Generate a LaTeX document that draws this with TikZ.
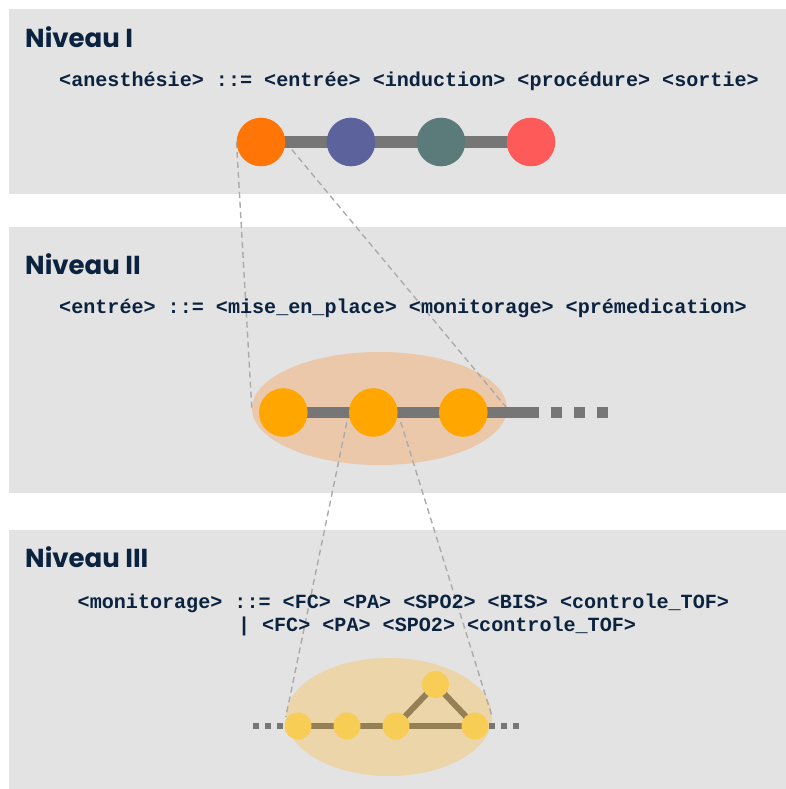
\documentclass[tikz,border=0pt]{standalone}
\usepackage{fontspec}
\setmainfont{Poppins}
\setmonofont{Liberation Mono}
\usetikzlibrary{shapes.geometric}
\pgfdeclarelayer{back}
\pgfdeclarelayer{ell}
\pgfdeclarelayer{dsh}
\pgfdeclarelayer{bar}
\pgfsetlayers{back,ell,dsh,bar,main}
\definecolor{panel}{HTML}{E3E3E3}
\definecolor{navy}{HTML}{0C2340}
\definecolor{bargrey}{HTML}{767676}
\definecolor{dashgrey}{HTML}{ABABAB}
\definecolor{corange}{HTML}{FF7506}
\definecolor{cpurple}{HTML}{5C629C}
\definecolor{cteal}{HTML}{5B7B7A}
\definecolor{cred}{HTML}{FF5A5A}
\definecolor{elltwo}{HTML}{EAC8A9}
\definecolor{dottwo}{HTML}{FFA700}
\definecolor{ellthree}{HTML}{EBD5A9}
\definecolor{dotthree}{HTML}{F8CD55}
\definecolor{brownline}{HTML}{957F55}
\tikzset{
  panelbox/.style={fill=panel, draw=none},
  title/.style={anchor=base west, inner sep=0pt, text=navy, font=\fontsize{26}{30}\selectfont\bfseries},
  code/.style={anchor=west, inner sep=0pt, text=navy, font=\fontsize{20.1}{22}\selectfont\ttfamily\bfseries},
  bigdot/.style={circle, minimum size=48.6pt, inner sep=0pt, draw=none},
  smalldot/.style={circle, minimum size=27pt, inner sep=0pt, draw=none, fill=dotthree},
  zoomell/.style={ellipse, inner sep=0pt, draw=none},
  zoomline/.style={draw=dashgrey, line width=1.4pt, dash pattern=on 6pt off 4pt},
  thickbar/.style={draw=bargrey, line width=11.7pt},
  thinbar/.style={draw=brownline, line width=6pt},
}
\begin{document}
\begin{tikzpicture}[x=1pt,y=-1pt]
\useasboundingbox (0,0) rectangle (786,789);
\begin{pgfonlayer}{back}
  \fill[white] (0,0) rectangle (786,789);
  \path[panelbox] (9,9) rectangle (786,194);
  \path[panelbox] (9,227) rectangle (786,493);
  \path[panelbox] (9,530) rectangle (786,789);
\end{pgfonlayer}

% titles and code
\node[title] (t1) at (25,48) {Niveau I};
\node[title] (t2) at (25,274) {Niveau II};
\node[title] (t3) at (25,567) {Niveau III};
\node[code] (g1) at (59,81) {<anesthésie> ::= <entrée> <induction> <procédure> <sortie>};
\node[code] (g2) at (59,308) {<entrée> ::= <mise\_en\_place> <monitorage> <prémedication>};
\node[code] (g3a) at (77.5,603) {<monitorage> ::= <FC> <PA> <SPO2> <BIS> <controle\_TOF>};
\node[code] (g3b) at (81,626) {\phantom{<monitorage> }| <FC> <PA> <SPO2> <controle\_TOF>};

% level I
\node[bigdot, fill=corange] (a1) at (261,142) {};
\node[bigdot, fill=cpurple] (a2) at (351,142) {};
\node[bigdot, fill=cteal] (a3) at (441,142) {};
\node[bigdot, fill=cred] (a4) at (531,142) {};

% level II
\begin{pgfonlayer}{ell}
  \node[zoomell, fill=elltwo, minimum width=255pt, minimum height=113pt] (e2) at (379.5,408.5) {};
  \node[zoomell, fill=ellthree, minimum width=206pt, minimum height=118pt] (e3) at (389,717) {};
\end{pgfonlayer}
\node[bigdot, fill=dottwo] (b1) at (283.3,412.5) {};
\node[bigdot, fill=dottwo] (b2) at (373.3,412.5) {};
\node[bigdot, fill=dottwo] (b3) at (463.3,412.5) {};
\coordinate (b3end) at (539,412.5);
\coordinate (b3d1) at (551,412.5);
\coordinate (b3d2) at (608,412.5);

% level III
\node[smalldot] (c1) at (298,726) {};
\node[smalldot] (c2) at (347,726) {};
\node[smalldot] (c3) at (396,726) {};
\node[smalldot] (c4) at (475,726) {};
\node[smalldot] (c5) at (435.5,684.5) {};
\coordinate (cl1) at (253,726);
\coordinate (cl2) at (298,726);
\coordinate (cr1) at (489,726);
\coordinate (cr2) at (520,726);

\begin{pgfonlayer}{bar}
  \draw[thickbar] (a1.center) -- (a4.center);
  \draw[thickbar] (b1.center) -- (b3end);
  \draw[thickbar, dash pattern=on 11pt off 12pt] (b3d1) -- (b3d2);
  \draw[draw=bargrey, line width=6pt, dash pattern=on 6pt off 6pt] (cl1) -- (cl2);
  \draw[draw=bargrey, line width=6pt, dash pattern=on 6pt off 6pt] (cr1) -- (cr2);
  \draw[thinbar] (c1.center) -- (c4.center);
  \draw[thinbar] (c3.center) -- (c5.center) -- (c4.center);
\end{pgfonlayer}

\begin{pgfonlayer}{dsh}
  \draw[zoomline] (a1.west) -- (e2.west);
  \draw[zoomline] (a1.east) -- (e2.east);
  \draw[zoomline] (b2.west) -- (e3.west);
  \draw[zoomline] (b2.east) -- (e3.east);
\end{pgfonlayer}
\end{tikzpicture}
\end{document}
